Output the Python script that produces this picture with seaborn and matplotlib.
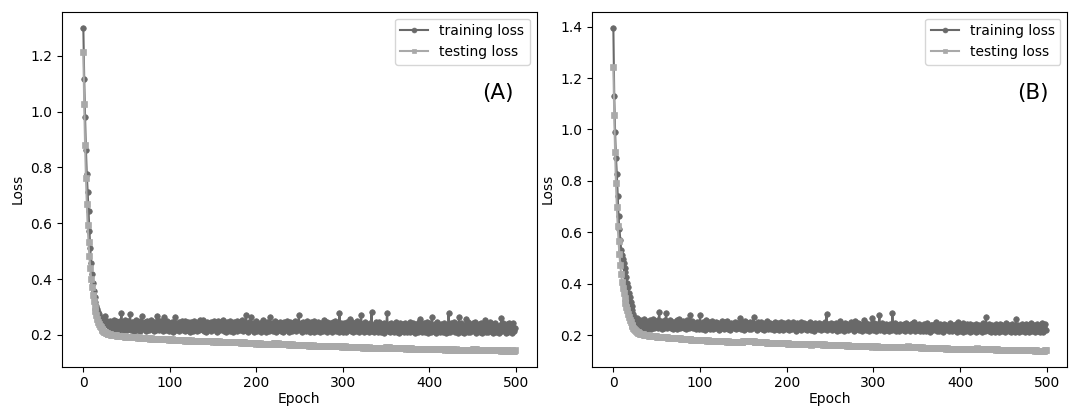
import matplotlib
matplotlib.use("Agg")
import matplotlib.pyplot as plt
import seaborn as sns
import pandas as pd

# ---------------- data (loss x 1000) ----------------
epochs = list(range(500))

train_a = [
    1300, 1118, 980, 862, 776, 712, 644, 574, 510, 458,
    418, 386, 358, 336, 318, 304, 292, 282, 274, 266,
    260, 254, 249, 258, 244, 268, 241, 249, 236, 243,
    232, 251, 220, 244, 226, 255, 218, 240, 249, 224,
    246, 216, 250, 229, 280, 221, 247, 219, 253, 230,
    243, 217, 251, 226, 276, 219, 245, 236, 214, 248,
    225, 252, 218, 241, 233, 215, 249, 222, 267, 237,
    220, 246, 214, 250, 228, 243, 217, 239, 252, 221,
    247, 229, 213, 245, 219, 267, 224, 251, 216, 238,
    249, 222, 215, 266, 231, 244, 217, 250, 226, 213,
    242, 219, 248, 226, 212, 245, 264, 218, 240, 229,
    214, 247, 222, 236, 251, 217, 243, 213, 249, 228,
    219, 245, 231, 212, 248, 224, 238, 215, 250, 226,
    241, 213, 246, 229, 218, 252, 221, 237, 255, 214,
    244, 227, 212, 248, 220, 239, 233, 214, 247, 222,
    236, 251, 216, 242, 225, 211, 249, 230, 218, 245,
    221, 253, 214, 240, 228, 212, 246, 219, 237, 250,
    215, 243, 226, 211, 248, 222, 238, 213, 251, 227,
    245, 218, 234, 252, 213, 241, 224, 216, 270, 236,
    212, 247, 229, 220, 265, 217, 243, 211, 238, 226,
    249, 215, 236, 222, 244, 212, 240, 228, 253, 218,
    233, 211, 246, 224, 214, 239, 266, 220, 244, 213,
    237, 226, 250, 212, 242, 219, 231, 248, 214, 240,
    223, 211, 245, 229, 216, 250, 221, 238, 212, 247,
    230, 215, 243, 220, 236, 249, 213, 241, 225, 271,
    217, 244, 228, 210, 247, 222, 236, 214, 251, 219,
    240, 226, 211, 245, 218, 233, 249, 212, 239, 224,
    214, 246, 221, 237, 211, 243, 228, 215, 252, 220,
    235, 212, 247, 223, 216, 241, 226, 210, 245, 231,
    218, 250, 213, 238, 225, 210, 278, 219, 242, 227,
    212, 244, 221, 235, 210, 248, 217, 239, 256, 214,
    230, 245, 209, 236, 222, 214, 249, 218, 233, 211,
    241, 272, 216, 238, 210, 227, 246, 213, 235, 220,
    209, 243, 224, 281, 215, 237, 211, 229, 248, 216,
    234, 210, 245, 221, 212, 240, 226, 208, 243, 219,
    231, 279, 213, 239, 209, 244, 222, 216, 237, 210,
    226, 247, 211, 234, 219, 208, 242, 224, 213, 238,
    217, 209, 244, 228, 212, 236, 220, 246, 210, 232,
    214, 241, 225, 208, 239, 218, 230, 211, 245, 258,
    221, 209, 237, 216, 243, 212, 229, 248, 208, 235,
    219, 242, 210, 264, 224, 213, 238, 207, 233, 246,
    215, 227, 209, 240, 221, 236, 211, 244, 218, 208,
    234, 212, 277, 225, 209, 241, 217, 230, 247, 211,
    228, 214, 239, 208, 264, 222, 243, 210, 233, 216,
    207, 237, 257, 219, 212, 245, 224, 209, 236, 218,
    241, 213, 229, 246, 208, 227, 215, 238, 210, 244,
    222, 207, 235, 217, 253, 212, 240, 224, 209, 231,
    245, 214, 226, 208, 238, 219, 242, 211, 229, 216,
    207, 236, 221, 259, 213, 244, 218, 230, 208, 239,
    225, 210, 243, 216, 234, 207, 228, 241, 214, 226,
]

test_a = [
    1212, 1027, 882, 763, 670, 593, 532, 481, 438, 401,
    370, 343, 320, 300, 284, 270, 258, 248, 240, 233,
    227, 222, 218, 215, 212, 210, 208, 206, 205, 204,
    203, 202, 201, 201, 200, 199, 199, 198, 198, 197,
    197, 197, 196, 196, 195, 196, 195, 195, 194, 194,
    194, 193, 194, 193, 193, 192, 193, 192, 192, 191,
    192, 191, 191, 190, 191, 190, 190, 190, 189, 190,
    189, 189, 188, 189, 188, 188, 188, 187, 188, 187,
    187, 187, 186, 187, 186, 186, 186, 185, 186, 185,
    185, 186, 185, 184, 185, 184, 185, 184, 184, 183,
    184, 183, 183, 184, 183, 182, 183, 182, 183, 182,
    182, 181, 182, 181, 182, 181, 181, 180, 181, 182,
    180, 181, 180, 180, 181, 179, 180, 180, 179, 180,
    179, 179, 180, 178, 179, 179, 178, 179, 178, 178,
    179, 178, 177, 178, 178, 177, 178, 177, 177, 178,
    176, 177, 177, 176, 177, 176, 176, 177, 175, 176,
    176, 175, 176, 175, 176, 175, 175, 174, 175, 175,
    174, 175, 174, 174, 173, 174, 174, 173, 174, 173,
    173, 174, 172, 173, 173, 172, 173, 172, 172, 171,
    172, 171, 172, 171, 170, 171, 170, 171, 170, 170,
    169, 170, 170, 169, 170, 168, 169, 169, 168, 169,
    168, 168, 167, 168, 167, 168, 167, 167, 166, 167,
    172, 171, 170, 170, 169, 170, 169, 168, 169, 168,
    168, 167, 168, 167, 166, 167, 166, 166, 165, 166,
    165, 166, 165, 164, 165, 164, 165, 164, 163, 164,
    164, 165, 164, 164, 163, 164, 163, 164, 163, 163,
    163, 162, 163, 162, 162, 163, 162, 161, 162, 162,
    161, 162, 161, 161, 160, 161, 161, 160, 161, 160,
    160, 161, 160, 160, 159, 160, 159, 160, 159, 159,
    162, 161, 161, 160, 160, 159, 160, 159, 159, 158,
    159, 158, 159, 158, 158, 157, 158, 158, 157, 158,
    157, 158, 157, 157, 156, 157, 157, 156, 157, 156,
    157, 156, 156, 155, 156, 156, 155, 156, 155, 155,
    156, 155, 155, 154, 155, 155, 154, 155, 154, 154,
    155, 154, 154, 155, 154, 153, 154, 153, 154, 153,
    158, 157, 156, 156, 155, 155, 155, 154, 154, 154,
    153, 154, 153, 153, 152, 153, 153, 152, 153, 152,
    153, 152, 152, 151, 152, 152, 151, 152, 151, 152,
    151, 150, 151, 151, 150, 151, 150, 151, 151, 150,
    151, 150, 150, 151, 150, 149, 150, 150, 149, 150,
    150, 149, 150, 149, 149, 150, 149, 148, 149, 149,
    148, 149, 148, 149, 148, 148, 149, 148, 147, 148,
    148, 147, 148, 148, 147, 148, 147, 148, 147, 147,
    147, 148, 147, 146, 147, 147, 146, 147, 146, 147,
    146, 147, 146, 146, 147, 146, 145, 146, 146, 145,
    150, 149, 149, 148, 148, 147, 147, 147, 146, 146,
    147, 146, 147, 146, 146, 146, 146, 146, 146, 145,
    146, 146, 145, 146, 145, 145, 145, 145, 145, 145,
    145, 145, 145, 144, 145, 144, 145, 144, 144, 145,
    144, 145, 144, 144, 144, 145, 144, 144, 144, 145,
]

train_b = [
    1395, 1131, 990, 890, 828, 742, 662, 612, 570, 532,
    512, 498, 482, 462, 446, 426, 404, 386, 364, 348,
    328, 314, 298, 284, 272, 262, 255, 266, 248, 256,
    238, 258, 226, 251, 232, 262, 229, 247, 255, 224,
    252, 230, 257, 225, 249, 236, 261, 228, 254, 233,
    246, 227, 259, 289, 231, 255, 224, 250, 237, 229,
    258, 285, 226, 249, 234, 260, 228, 243, 253, 225,
    250, 232, 247, 223, 257, 236, 262, 227, 244, 230,
    255, 228, 249, 234, 223, 258, 239, 226, 251, 279,
    231, 256, 227, 245, 238, 222, 253, 233, 248, 225,
    277, 236, 224, 252, 229, 246, 221, 257, 235, 228,
    250, 225, 244, 233, 256, 222, 240, 230, 253, 227,
    238, 248, 221, 243, 232, 255, 226, 241, 223, 250,
    229, 254, 224, 245, 235, 220, 249, 231, 243, 226,
    252, 222, 238, 247, 227, 236, 266, 225, 251, 230,
    242, 221, 255, 233, 228, 248, 224, 240, 253, 222,
    236, 247, 271, 226, 244, 231, 220, 252, 229, 238,
    250, 223, 241, 234, 219, 246, 228, 254, 225, 237,
    227, 249, 222, 243, 235, 220, 251, 230, 240, 224,
    246, 221, 237, 252, 226, 233, 219, 248, 231, 242,
    224, 250, 229, 219, 245, 236, 223, 253, 227, 240,
    233, 218, 247, 225, 241, 229, 252, 221, 238, 226,
    249, 222, 236, 244, 220, 239, 228, 251, 219, 234,
    243, 225, 218, 248, 230, 237, 222, 246, 227, 240,
    219, 245, 232, 224, 250, 228, 283, 221, 242, 235,
    226, 248, 220, 237, 244, 223, 231, 249, 218, 240,
    229, 255, 221, 243, 226, 238, 218, 247, 233, 224,
    244, 219, 236, 229, 250, 222, 240, 227, 217, 256,
    238, 223, 247, 220, 234, 245, 226, 218, 241, 259,
    225, 249, 219, 237, 231, 217, 244, 228, 239, 267,
    221, 246, 230, 218, 242, 227, 235, 279, 220, 238,
    248, 224, 217, 240, 229, 245, 220, 236, 216, 243,
    231, 219, 286, 234, 224, 247, 218, 238, 228, 241,
    216, 245, 226, 235, 219, 242, 229, 217, 246, 223,
    239, 228, 216, 244, 222, 235, 247, 252, 218, 233,
    241, 220, 229, 245, 217, 237, 224, 215, 243, 227,
    236, 218, 246, 223, 231, 214, 240, 226, 238, 219,
    230, 244, 253, 217, 235, 226, 215, 242, 221, 237,
    214, 245, 228, 220, 239, 224, 233, 216, 247, 222,
    236, 215, 241, 227, 219, 243, 225, 213, 253, 231,
    218, 240, 223, 246, 214, 234, 229, 216, 242, 221,
    237, 213, 244, 226, 218, 239, 222, 235, 214, 245,
    228, 217, 241, 223, 236, 213, 246, 220, 233, 218,
    269, 224, 238, 215, 243, 227, 213, 240, 222, 236,
    214, 242, 225, 219, 237, 212, 245, 228, 216, 239,
    223, 234, 213, 247, 220, 231, 217, 241, 226, 212,
    244, 221, 236, 214, 229, 261, 218, 239, 212, 233,
    225, 215, 242, 220, 236, 212, 245, 223, 218, 238,
    213, 231, 246, 217, 227, 240, 211, 235, 222, 244,
    216, 233, 212, 239, 224, 247, 213, 230, 242, 220,
]

test_b = [
    1242, 1058, 913, 790, 700, 625, 565, 515, 472, 437,
    408, 383, 362, 343, 326, 310, 296, 283, 271, 260,
    250, 241, 234, 228, 223, 219, 216, 213, 211, 209,
    207, 206, 205, 204, 203, 202, 201, 200, 200, 199,
    199, 198, 198, 197, 197, 196, 196, 195, 195, 195,
    194, 194, 194, 193, 193, 193, 192, 192, 192, 191,
    191, 191, 191, 190, 190, 190, 189, 189, 189, 189,
    188, 188, 188, 188, 187, 187, 187, 187, 186, 186,
    186, 186, 185, 185, 185, 185, 184, 184, 184, 184,
    183, 183, 183, 183, 182, 182, 182, 182, 181, 182,
    181, 181, 181, 180, 181, 180, 180, 180, 179, 180,
    179, 179, 179, 179, 178, 179, 178, 178, 178, 178,
    177, 178, 177, 177, 177, 176, 177, 176, 176, 176,
    176, 175, 176, 175, 175, 175, 174, 175, 174, 174,
    174, 174, 173, 174, 173, 173, 173, 173, 172, 173,
    176, 176, 177, 177, 178, 178, 178, 178, 177, 177,
    177, 176, 176, 175, 175, 175, 174, 174, 174, 173,
    173, 173, 173, 172, 172, 172, 172, 171, 171, 171,
    171, 171, 170, 171, 170, 170, 170, 170, 169, 170,
    169, 169, 169, 169, 168, 169, 168, 168, 168, 168,
    168, 167, 168, 167, 167, 167, 167, 166, 167, 166,
    166, 166, 166, 166, 165, 166, 165, 165, 165, 165,
    165, 164, 165, 164, 164, 164, 164, 164, 163, 164,
    167, 167, 166, 166, 166, 165, 165, 165, 164, 164,
    164, 164, 163, 164, 163, 163, 163, 163, 162, 163,
    162, 162, 162, 162, 162, 161, 162, 161, 161, 161,
    161, 161, 160, 161, 160, 160, 160, 160, 160, 160,
    159, 160, 159, 159, 159, 159, 159, 158, 159, 158,
    158, 158, 158, 158, 157, 158, 157, 157, 157, 157,
    157, 156, 157, 156, 156, 156, 156, 156, 155, 156,
    156, 156, 156, 155, 156, 155, 155, 155, 155, 155,
    155, 155, 154, 155, 154, 154, 154, 154, 154, 154,
    154, 154, 153, 154, 153, 153, 153, 153, 153, 153,
    153, 153, 152, 153, 152, 152, 152, 152, 152, 152,
    156, 155, 155, 154, 154, 154, 153, 153, 153, 153,
    152, 152, 152, 152, 152, 151, 152, 151, 151, 151,
    151, 151, 151, 151, 150, 151, 150, 150, 150, 150,
    150, 150, 150, 150, 149, 150, 149, 149, 149, 149,
    149, 149, 149, 149, 148, 149, 148, 148, 148, 148,
    148, 148, 148, 148, 147, 148, 147, 147, 147, 147,
    147, 147, 147, 147, 147, 146, 147, 146, 146, 146,
    146, 146, 146, 146, 146, 146, 145, 146, 145, 145,
    149, 148, 148, 147, 147, 147, 147, 146, 146, 146,
    146, 146, 145, 146, 145, 145, 145, 145, 145, 145,
    145, 145, 144, 145, 144, 144, 144, 144, 144, 144,
    144, 144, 144, 143, 144, 143, 143, 143, 143, 143,
    143, 143, 143, 143, 142, 143, 142, 142, 142, 142,
    142, 142, 142, 142, 142, 142, 141, 142, 141, 141,
    141, 141, 141, 141, 141, 141, 141, 140, 141, 140,
    140, 140, 140, 140, 140, 140, 140, 140, 143, 144,
]

series_labels = ["training loss", "testing loss"]
panel_labels = ["(A)", "(B)"]
x_label = "Epoch"
y_label = "Loss"

# ---------------- figure ----------------
fig = plt.figure(figsize=(10.72, 4.07), dpi=100)
ax_a = fig.add_axes([0.0576, 0.099, 0.4431, 0.8722])
ax_b = fig.add_axes([0.552, 0.099, 0.4437, 0.8722])

colors = ["dimgray", "darkgray"]
markers = ["o", "s"]
msizes = [4.0, 4.5]

for ax, tr, te, lab, lx in [(ax_a, train_a, test_a, panel_labels[0], 0.918),
                            (ax_b, train_b, test_b, panel_labels[1], 0.927)]:
    df = pd.DataFrame({"Epoch": epochs,
                       series_labels[0]: [v / 1000 for v in tr],
                       series_labels[1]: [v / 1000 for v in te]})
    for i, name in enumerate(series_labels):
        sns.lineplot(data=df, x="Epoch", y=name, ax=ax, color=colors[i],
                     marker=markers[i], markersize=msizes[i],
                     markeredgecolor=colors[i], markerfacecolor=colors[i],
                     markeredgewidth=0.5, linewidth=1.5, label=name)
    ax.set_xlabel(x_label, fontsize=10, labelpad=1)
    ax.set_ylabel(y_label, fontsize=10)
    ax.tick_params(labelsize=10)
    leg = ax.legend(loc="upper right", fontsize=10)
    for h in leg.legend_handles:
        h.set_markersize(3.5)
    ax.text(lx, 0.771, lab, transform=ax.transAxes, fontsize=15.5,
            ha="center", va="center")

fig.savefig("out.png", dpi=100)
